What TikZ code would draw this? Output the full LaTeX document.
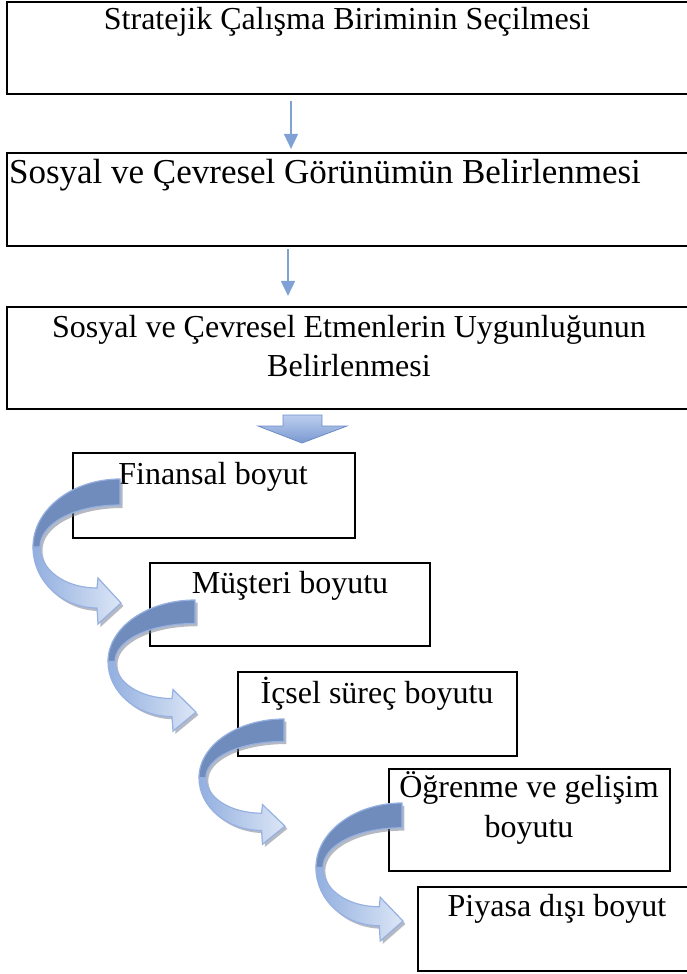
\documentclass[tikz,border=0pt]{standalone}
\usepackage{fontspec}
\setmainfont{Liberation Serif}
\usetikzlibrary{arrows.meta,calc}
\definecolor{arrblue}{RGB}{127,161,214}
\definecolor{darkband}{RGB}{112,140,189}
\definecolor{bandedge}{RGB}{150,177,225}
\definecolor{lightA}{RGB}{146,175,223}
\definecolor{lightB}{RGB}{220,230,246}
\definecolor{shadowc}{RGB}{120,128,145}
\definecolor{fatTop}{RGB}{188,206,238}
\definecolor{fatBot}{RGB}{122,153,208}
\definecolor{fatEdge}{RGB}{110,140,200}
\newcommand{\curvedarr}[4]{%
  \begin{scope}[shift={(#1,#2)},xscale=#3,yscale=#4]
    \begin{scope}[shift={(2.5,3)}]
      \fill[shadowc,opacity=0.55] (0,0) .. controls (-48,0) and (-87,30.6) .. (-87,68)
        .. controls (-87,102) and (-58,129) .. (-23,129) -- (-22,145) -- (1,124) -- (-22,99) -- (-23,109)
        .. controls (-56,109) and (-80,90) .. (-80,68)
        .. controls (-80,44.8) and (-46,26) .. (0,26) -- cycle;
    \end{scope}
    \path[left color=lightA,right color=lightB,draw=bandedge,line width=1.2pt]
      (-87,68) .. controls (-87,102) and (-58,129) .. (-23,129) -- (-22,145) -- (1,124) -- (-22,99) -- (-23,109)
      .. controls (-56,109) and (-80,90) .. (-80,68) -- cycle;
    \path[fill=darkband,draw=bandedge,line width=1.2pt]
      (0,0) .. controls (-48,0) and (-87,30.6) .. (-87,68) -- (-80,68)
      .. controls (-80,44.8) and (-46,26) .. (0,26) -- cycle;
  \end{scope}}
\begin{document}
\begin{tikzpicture}[x=1pt,y=-1pt,
  box/.style={draw=black,line width=2.2pt,inner sep=0pt},
  lbl/.style={anchor=base,inner sep=0pt,font=\fontsize{32}{38}\selectfont},
  biglbl/.style={lbl,font=\fontsize{35}{40}\selectfont},
  thinarr/.style={draw=arrblue,line width=1.8pt,-{Triangle[length=15pt,width=14pt]}},
  fatarr/.style={top color=fatTop,bottom color=fatBot,draw=fatEdge,line width=0.8pt},
]
\useasboundingbox (0,0) rectangle (686,974);

% boxes
\node[box,minimum width=693pt,minimum height=92pt]  (b1) at (353.5,48) {};
\node[box,minimum width=693pt,minimum height=93pt]  (b2) at (353.5,199.5) {};
\node[box,minimum width=693pt,minimum height=102pt] (b3) at (353.5,358) {};
\node[box,minimum width=282pt,minimum height=85pt]  (b4) at (214,495.5) {};
\node[box,minimum width=280pt,minimum height=83pt]  (b5) at (290,604.5) {};
\node[box,minimum width=279pt,minimum height=84pt]  (b6) at (377.5,714) {};
\node[box,minimum width=281pt,minimum height=102pt] (b7) at (529.5,820) {};
\node[box,minimum width=282pt,minimum height=84pt]  (b8) at (559,929) {};

% labels
\node[lbl]    (t1)  at (347,30)  {Stratejik Çalışma Biriminin Seçilmesi};
\node[biglbl] (t2)  at (325,183) {Sosyal ve Çevresel Görünümün Belirlenmesi};
\node[lbl]    (t3a) at (349,337) {Sosyal ve Çevresel Etmenlerin Uygunluğunun};
\node[lbl]    (t3b) at (349,376) {Belirlenmesi};
\node[lbl]    (t4)  at (213,484) {Finansal boyut};
\node[lbl]    (t5)  at (290,593) {Müşteri boyutu};
\node[lbl]    (t6)  at (377,703) {İçsel süreç boyutu};
\node[lbl]    (t7a) at (529,797) {Öğrenme ve gelişim};
\node[lbl]    (t7b) at (529,837) {boyutu};
\node[lbl]    (t8)  at (557,916) {Piyasa dışı boyut};

% thin arrows
\coordinate (ax1) at (291,0);
\coordinate (ax2) at (288,0);
\draw[thinarr] ($(b1.south -| ax1)+(0,6)$) -- ($(b2.north -| ax1)+(0,-3)$);
\draw[thinarr] ($(b2.south -| ax2)+(0,2)$) -- ($(b3.north -| ax2)+(0,-10)$);

% fat block arrow
\path[fatarr] (283,415) -- (322,415) -- (322,426) -- (347,426) -- (302,443) -- (258,426) -- (283,426) -- cycle;

% curved arrows
\curvedarr{120}{479}{1}{1}
\curvedarr{195}{600}{1}{0.904}
\curvedarr{284}{719}{0.977}{0.864}
\curvedarr{402}{803}{0.989}{0.952}
\end{tikzpicture}
\end{document}
